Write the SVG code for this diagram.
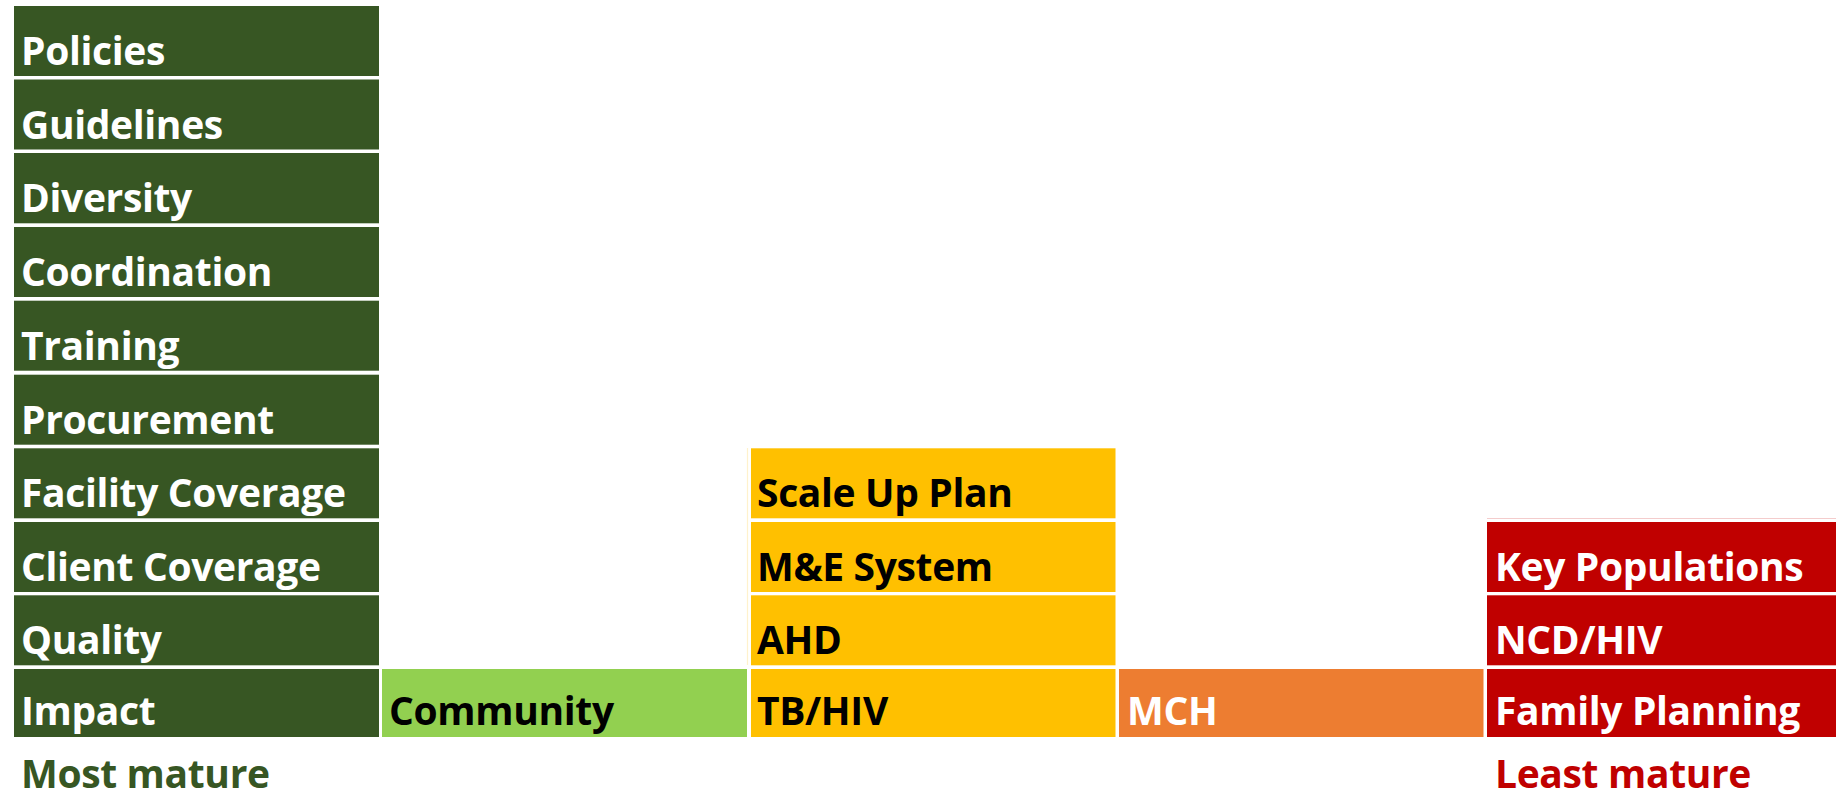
<svg xmlns="http://www.w3.org/2000/svg" width="1836" height="796" viewBox="0 0 1836 796">
  <style>
    .lbl { font-family: "Open Sans", "Liberation Sans", sans-serif; font-weight: 700; font-size: 39px; letter-spacing: -0.35px; }
    .dk { fill: #375623; }
    .lg { fill: #92D050; }
    .ye { fill: #FFC000; }
    .or { fill: #ED7D31; }
    .rd { fill: #C00000; }
    .w { fill: #FFFFFF; }
    .b { fill: #000000; }
  </style>
  <rect width="1836" height="796" fill="#FFFFFF"/>

  <!-- faint cell borders -->
  <line x1="747.5" y1="448" x2="747.5" y2="665" stroke="#FFF2CC" stroke-width="1.2"/>
  <line x1="1487" y1="518.5" x2="1836" y2="518.5" stroke="#F4CCCC" stroke-width="1.2"/>

  <!-- most mature column -->
  <g id="policies"><rect class="dk" x="14" y="6" width="365" height="70"/><text class="lbl w" x="21" y="65">Policies</text></g>
  <g id="guidelines"><rect class="dk" x="14" y="79.5" width="365" height="70"/><text class="lbl w" x="21" y="138.5">Guidelines</text></g>
  <g id="diversity"><rect class="dk" x="14" y="153" width="365" height="70.3"/><text class="lbl w" x="21" y="212">Diversity</text></g>
  <g id="coordination"><rect class="dk" x="14" y="227" width="365" height="70"/><text class="lbl w" x="21" y="286">Coordination</text></g>
  <g id="training"><rect class="dk" x="14" y="300.7" width="365" height="70"/><text class="lbl w" x="21" y="360">Training</text></g>
  <g id="procurement"><rect class="dk" x="14" y="374.7" width="365" height="70"/><text class="lbl w" x="21" y="434">Procurement</text></g>
  <g id="facility-coverage"><rect class="dk" x="14" y="448.3" width="365" height="70"/><text class="lbl w" x="21" y="507">Facility Coverage</text></g>
  <g id="client-coverage"><rect class="dk" x="14" y="522" width="365" height="70"/><text class="lbl w" x="21" y="581">Client Coverage</text></g>
  <g id="quality"><rect class="dk" x="14" y="595.3" width="365" height="70"/><text class="lbl w" x="21" y="654">Quality</text></g>
  <g id="impact"><rect class="dk" x="14" y="669" width="365" height="68"/><text class="lbl w" x="21" y="725">Impact</text></g>

  <!-- community column -->
  <g id="community"><rect class="lg" x="382" y="669" width="365" height="68"/><text class="lbl b" x="389" y="725">Community</text></g>

  <!-- integration column -->
  <g id="scale-up-plan"><rect class="ye" x="751" y="448.3" width="364.5" height="70"/><text class="lbl b" x="757" y="507">Scale Up Plan</text></g>
  <g id="me-system"><rect class="ye" x="751" y="522" width="364.5" height="70"/><text class="lbl b" x="757" y="581">M&amp;E System</text></g>
  <g id="ahd"><rect class="ye" x="751" y="595.3" width="364.5" height="70"/><text class="lbl b" x="757" y="654">AHD</text></g>
  <g id="tb-hiv"><rect class="ye" x="751" y="669" width="364.5" height="68"/><text class="lbl b" x="757" y="725">TB/HIV</text></g>

  <!-- MCH column -->
  <g id="mch"><rect class="or" x="1119" y="669" width="364.5" height="68"/><text class="lbl w" x="1127" y="725">MCH</text></g>

  <!-- least mature column -->
  <g id="key-populations"><rect class="rd" x="1487" y="522" width="349" height="70"/><text class="lbl w" x="1495" y="581">Key Populations</text></g>
  <g id="ncd-hiv"><rect class="rd" x="1487" y="595.3" width="349" height="70"/><text class="lbl w" x="1495" y="654">NCD/HIV</text></g>
  <g id="family-planning"><rect class="rd" x="1487" y="669" width="349" height="68"/><text class="lbl w" x="1495" y="725">Family Planning</text></g>

  <!-- scale ends -->
  <text id="most-mature" class="lbl dk" x="21" y="788">Most mature</text>
  <text id="least-mature" class="lbl rd" x="1495" y="788">Least mature</text>
</svg>
